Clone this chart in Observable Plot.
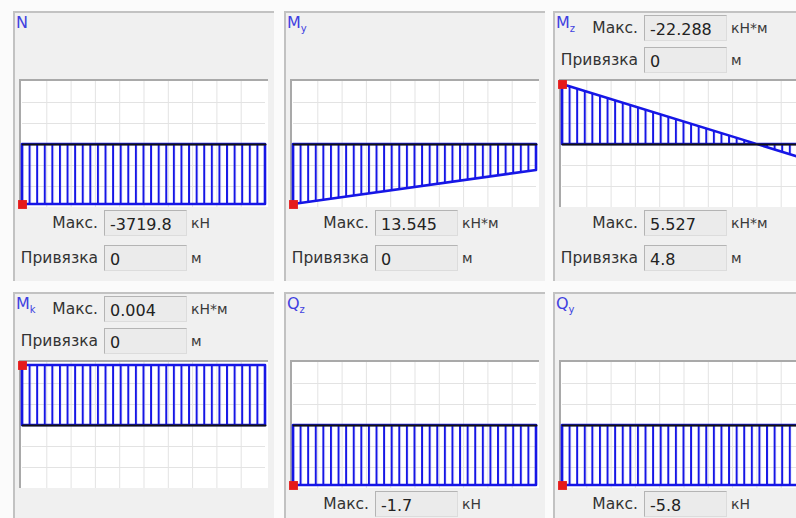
<!DOCTYPE html>
<html><head><meta charset="utf-8">
<script src="https://cdn.jsdelivr.net/npm/d3@7"></script>
<script src="https://cdn.jsdelivr.net/npm/@observablehq/plot@0.6"></script>
<style>
html,body{margin:0;padding:0;background:#fff;}
#root{position:relative;width:796px;height:518px;overflow:hidden;background:#fbfbfb;font-family:"DejaVu Sans",sans-serif;}
.panel{position:absolute;background:#f0f0f0;border-left:2px solid #c2c2c2;border-top:2px solid #c2c2c2;box-sizing:border-box;}
.sym{position:absolute;color:#4040e0;font-size:16px;line-height:18px;white-space:nowrap;}
.sym sub{font-size:10px;vertical-align:-4px;line-height:0;}
.lbl{position:absolute;color:#333;font-size:15.5px;line-height:27px;height:26px;white-space:nowrap;}
.lbl.r{text-align:right;}
.lbl.u{font-size:14px;color:#3a3a3a;}
.box{position:absolute;width:83px;height:26px;background:#ebebeb;border:1px solid #dcdcdc;border-top-color:#b4b4b4;border-left-color:#b4b4b4;box-sizing:border-box;font-size:16px;line-height:28px;padding-left:5px;color:#222;white-space:nowrap;overflow:hidden;}
.chart{position:absolute;border-top:2px solid #a9a9a9;border-left:2px solid #a9a9a9;background:#fff;width:247px;height:126px;}
.chart svg{display:block;}
</style>
</head><body>
<svg width="0" height="0" style="position:absolute">
  <defs>
    <pattern id="hatch" patternUnits="userSpaceOnUse" x="0" y="0" width="7.594" height="10">
      <rect x="0" y="0" width="2" height="10" fill="#1616e6"></rect>
    </pattern>
  </defs>
</svg>
<div id="root"></div>
<script>
// ---- data ----
const symbolBase = ["N", "M", "M", "M", "Q", "Q"];
const symbolSub  = ["",  "y", "z", "k", "z", "y"];
const beamX      = [0, 4.8];                       // beam length, m (Привязка 4.8)
const startVals  = [-3719.8, 13.545, -22.288, 0.004, -1.7, -5.8];
const endVals    = [-3719.8, 5.87,   5.527,   0.004, -1.7, -5.8];
const units      = ["кН", "кН*м", "кН*м", "кН*м", "кН", "кН"];
const topMax     = [null, null, "-22.288", "0.004", null, null];
const topBind    = [null, null, "0", "0", null, null];
const bottomMax  = ["-3719.8", "13.545", "5.527", null, "-1.7", "-5.8"];
const bottomBind = ["0", "0", "4.8", null, null, null];
const labelMax   = "Макс.";
const labelBind  = "Привязка";
const bindUnit   = "м";
// sign convention of each diagram (true: positive values drawn downward)
const positiveDown = [false, true, true, false, false, false];

// ---- layout ----
const root = document.getElementById("root");
const colLeft = [13, 284, 553], rowTop = [11, 292];
const panelH = [270, 240];

function el(cls, css, html) {
  const d = document.createElement("div");
  d.className = cls;
  Object.assign(d.style, css);
  if (html != null) d.innerHTML = html;
  root.appendChild(d);
  return d;
}
function field(L, y, label, value, unit) {
  el("lbl r", {left: L + "px", top: y + "px", width: "85px"}, label);
  el("box", {left: (L + 91) + "px", top: y + "px"}, value);
  el("lbl u", {left: (L + 178) + "px", top: y + "px"}, unit);
}

function chart(i) {
  const data = beamX.map((x, j) => ({x, v: j === 0 ? startVals[i] : endVals[i], zero: 0}));
  const ext = d3.max([startVals[i], endVals[i]], Math.abs);
  const D = ext * 63 / 60;
  const gridXv = d3.range(1, 10).map(k => beamX[1] * k / 10);
  const gridYv = [-2, -1, 1, 2].map(k => k * D / 3);
  const svg = Plot.plot({
    width: 247, height: 126,
    marginTop: 0, marginBottom: 0, marginLeft: 1, marginRight: 3,
    x: {domain: beamX, axis: null},
    y: {domain: [-D, D], reverse: positiveDown[i], axis: null},
    marks: [
      Plot.ruleX(gridXv, {stroke: "#e3e3e3", strokeWidth: 1}),
      Plot.ruleY(gridYv, {stroke: "#e3e3e3", strokeWidth: 1}),
      Plot.areaY(data, {x: "x", y1: "zero", y2: "v", fill: "url(#hatch)", stroke: "#1616e6", strokeWidth: 2.6}),
      Plot.lineY(data, {x: "x", y: "zero", stroke: "#111", strokeWidth: 2}),
      Plot.dot(data.slice(0, 1), {x: "x", y: "v", symbol: "square", r: 5, fill: "#e51a1a", stroke: "none"})
    ]
  });
  svg.style.background = "#fff";
  svg.style.maxWidth = "none";
  svg.style.overflow = "visible";
  return svg;
}

for (let i = 0; i < 6; i++) {
  const L = colLeft[i % 3], T = rowTop[Math.floor(i / 3)], r = Math.floor(i / 3);
  el("panel", {left: L + "px", top: T + "px", width: "261px", height: panelH[r] + "px"});
  el("sym", {left: (L + 3) + "px", top: (T + 3) + "px"},
     symbolBase[i] + (symbolSub[i] ? "<sub>" + symbolSub[i] + "</sub>" : ""));
  if (topMax[i]) field(L, T + 4, labelMax, topMax[i], units[i]);
  if (topBind[i]) field(L, T + 36, labelBind, topBind[i], bindUnit);
  if (bottomMax[i]) field(L, T + 199, labelMax, bottomMax[i], units[i]);
  if (bottomBind[i]) field(L, T + 234, labelBind, bottomBind[i], bindUnit);
  const c = el("chart", {left: (L + 6) + "px", top: (T + 68) + "px"});
  c.appendChild(chart(i));
}
</script>
</body></html>
